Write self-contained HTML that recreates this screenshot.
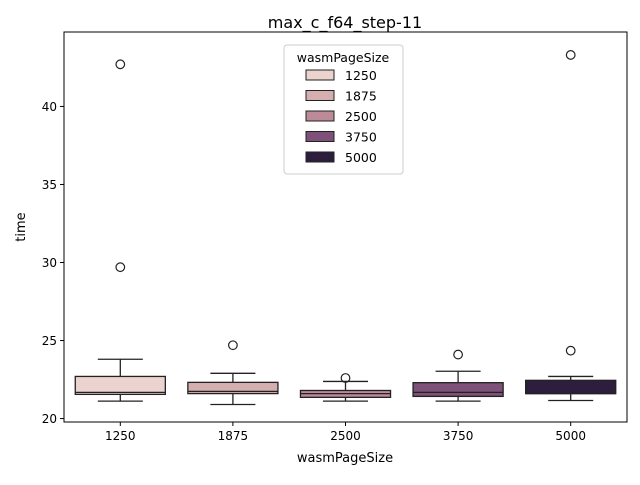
<!DOCTYPE html>
<html><head><meta charset="utf-8"><style>
body{margin:0;background:#fff;font-family:"Liberation Sans","DejaVu Sans",sans-serif}
text{font-family:"DejaVu Sans","Liberation Sans",sans-serif;fill:#000}
</style></head><body>
<svg id="chart" width="640" height="480" xmlns="http://www.w3.org/2000/svg">
<rect width="640" height="480" fill="#fff"/>
<text x="345" y="28" font-size="16" text-anchor="middle">max_c_f64_step-11</text>
<g id="plot"></g>
<rect x="64" y="32" width="563" height="390" fill="none" stroke="#000" stroke-width="1"/>
<text x="345" y="462" font-size="13" text-anchor="middle">wasmPageSize</text>
<text transform="translate(25,227) rotate(-90)" font-size="13" text-anchor="middle">time</text>
<g id="legend"></g>
</svg>
<script>
const categories=["1250","1875","2500","3750","5000"];
const colors=["#ebd3cf","#d5aeb0","#bd8a9a","#7d5179","#2c1e3c"];
const whiskerLow=[21.12,20.9,21.12,21.12,21.16];
const q1=[21.55,21.6,21.36,21.42,21.6];
const medians=[21.68,21.74,21.6,21.68,21.6];
const q3=[22.7,22.32,21.8,22.3,22.45];
const whiskerHigh=[23.8,22.9,22.38,23.03,22.7];
const outliers=[[42.7,29.7],[24.7],[22.6],[24.1],[43.3,24.35]];
const yTicks=[20,25,30,35,40];
const NS="http://www.w3.org/2000/svg";
const L=64,R=627,T=32,B=422,yMin=19.78,yMax=44.77;
function y(v){return B-(v-yMin)/(yMax-yMin)*(B-T);}
function xc(i){return L+(R-L)/categories.length*(i+0.5);}
function mk(tag,a,parent){const e=document.createElementNS(NS,tag);for(const k in a)e.setAttribute(k,a[k]);(parent||document.getElementById('plot')).appendChild(e);return e;}
const svg=document.getElementById('chart');
yTicks.forEach(t=>{
 const l=mk('line',{x1:L-4,x2:L,y1:y(t),y2:y(t),stroke:'#000'},svg);
 
 
 const tx=mk('text',{x:L-7,y:y(t)+4.5,'font-size':12,'text-anchor':'end'},svg);tx.textContent=t;
 
 
});
const bw=(R-L)/categories.length*0.8;
categories.forEach((c,i)=>{
 const x=xc(i);
 const l=mk('line',{x1:x,x2:x,y1:B,y2:B+4,stroke:'#000'},svg);
 
 
 const tx=mk('text',{x:x,y:B+18,'font-size':12,'text-anchor':'middle'},svg);tx.textContent=c;
 
 
 const g=mk('g',{});
 
 
 const s='#222';
 mk('line',{x1:x,x2:x,y1:y(whiskerLow[i]),y2:y(q1[i]),stroke:s,'stroke-width':1.3},g);
 mk('line',{x1:x,x2:x,y1:y(q3[i]),y2:y(whiskerHigh[i]),stroke:s,'stroke-width':1.3},g);
 mk('line',{x1:x-bw/4,x2:x+bw/4,y1:y(whiskerLow[i]),y2:y(whiskerLow[i]),stroke:s,'stroke-width':1.3},g);
 mk('line',{x1:x-bw/4,x2:x+bw/4,y1:y(whiskerHigh[i]),y2:y(whiskerHigh[i]),stroke:s,'stroke-width':1.3},g);
 mk('rect',{x:x-bw/2,y:y(q3[i]),width:bw,height:y(q1[i])-y(q3[i]),fill:colors[i],stroke:s,'stroke-width':1.3},g);
 mk('line',{x1:x-bw/2,x2:x+bw/2,y1:y(medians[i]),y2:y(medians[i]),stroke:s,'stroke-width':1.3},g);
 outliers[i].forEach(o=>{const p=mk('circle',{cx:x,cy:y(o),r:4.3,fill:'none',stroke:s,'stroke-width':1.2},g);
  
  });
});
const lg=document.getElementById('legend');
mk('rect',{x:284,y:45,width:119,height:129,rx:3,fill:'#fff','fill-opacity':0.8,stroke:'#ccc'},lg);
const lt=mk('text',{x:343,y:62,'font-size':12.5,'text-anchor':'middle'},lg);lt.textContent='wasmPageSize';
categories.forEach((c,i)=>{
 const yy=70+i*20.5;
 const r=mk('rect',{x:306,y:yy,width:28,height:10,fill:colors[i],stroke:'#222','stroke-width':1},lg);
 
 
 const t=mk('text',{x:345,y:yy+10,'font-size':12.5},lg);t.textContent=c;
 
 
});
</script>
</body></html>
